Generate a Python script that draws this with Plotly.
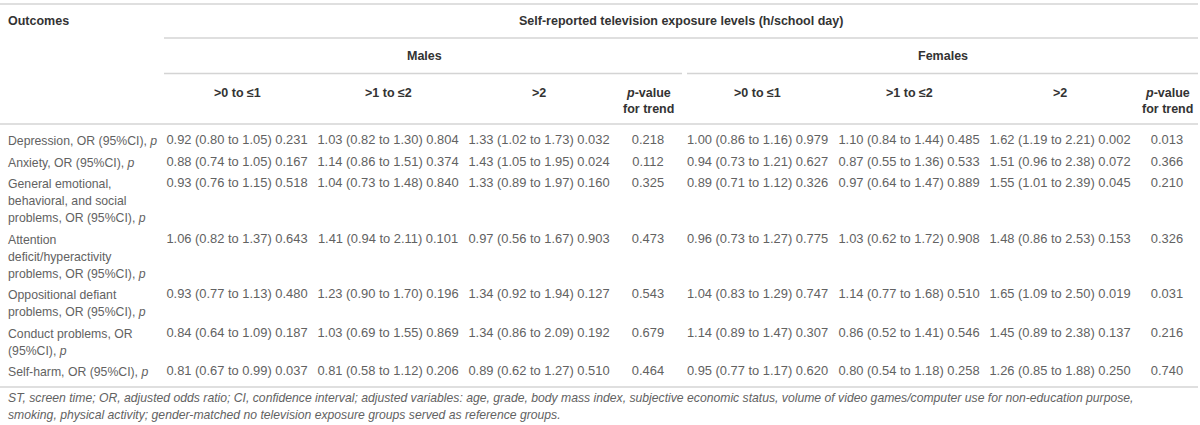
import plotly.graph_objects as go

# ---------------- data ----------------
outcomes = [
    ["Depression, OR (95%CI), <i>p</i>"],
    ["Anxiety, OR (95%CI), <i>p</i>"],
    ["General emotional,", "behavioral, and social", "problems, OR (95%CI), <i>p</i>"],
    ["Attention", "deficit/hyperactivity", "problems, OR (95%CI), <i>p</i>"],
    ["Oppositional defiant", "problems, OR (95%CI), <i>p</i>"],
    ["Conduct problems, OR", "(95%CI), <i>p</i>"],
    ["Self-harm, OR (95%CI), <i>p</i>"],
]
male_0_1 = ["0.92 (0.80 to 1.05) 0.231", "0.88 (0.74 to 1.05) 0.167", "0.93 (0.76 to 1.15) 0.518",
            "1.06 (0.82 to 1.37) 0.643", "0.93 (0.77 to 1.13) 0.480", "0.84 (0.64 to 1.09) 0.187",
            "0.81 (0.67 to 0.99) 0.037"]
male_1_2 = ["1.03 (0.82 to 1.30) 0.804", "1.14 (0.86 to 1.51) 0.374", "1.04 (0.73 to 1.48) 0.840",
            "1.41 (0.94 to 2.11) 0.101", "1.23 (0.90 to 1.70) 0.196", "1.03 (0.69 to 1.55) 0.869",
            "0.81 (0.58 to 1.12) 0.206"]
male_gt2 = ["1.33 (1.02 to 1.73) 0.032", "1.43 (1.05 to 1.95) 0.024", "1.33 (0.89 to 1.97) 0.160",
            "0.97 (0.56 to 1.67) 0.903", "1.34 (0.92 to 1.94) 0.127", "1.34 (0.86 to 2.09) 0.192",
            "0.89 (0.62 to 1.27) 0.510"]
male_trend = ["0.218", "0.112", "0.325", "0.473", "0.543", "0.679", "0.464"]
female_0_1 = ["1.00 (0.86 to 1.16) 0.979", "0.94 (0.73 to 1.21) 0.627", "0.89 (0.71 to 1.12) 0.326",
              "0.96 (0.73 to 1.27) 0.775", "1.04 (0.83 to 1.29) 0.747", "1.14 (0.89 to 1.47) 0.307",
              "0.95 (0.77 to 1.17) 0.620"]
female_1_2 = ["1.10 (0.84 to 1.44) 0.485", "0.87 (0.55 to 1.36) 0.533", "0.97 (0.64 to 1.47) 0.889",
              "1.03 (0.62 to 1.72) 0.908", "1.14 (0.77 to 1.68) 0.510", "0.86 (0.52 to 1.41) 0.546",
              "0.80 (0.54 to 1.18) 0.258"]
female_gt2 = ["1.62 (1.19 to 2.21) 0.002", "1.51 (0.96 to 2.38) 0.072", "1.55 (1.01 to 2.39) 0.045",
              "1.48 (0.86 to 2.53) 0.153", "1.65 (1.09 to 2.50) 0.019", "1.45 (0.89 to 2.38) 0.137",
              "1.26 (0.85 to 1.88) 0.250"]
female_trend = ["0.013", "0.366", "0.210", "0.326", "0.031", "0.216", "0.740"]

col_labels = [[">0 to ≤1"], [">1 to ≤2"], [">2"], ["<i>p</i>-value", "for trend"]]
title_text = "Self-reported television exposure levels (h/school day)"
group_labels = ["Males", "Females"]
stub_label = "Outcomes"
footnote_lines = [
    "ST, screen time; OR, adjusted odds ratio; CI, confidence interval; adjusted variables: age, grade, body mass index, "
    "subjective economic status, volume of video games/computer use for non-education purpose,",
    "smoking, physical activity; gender-matched no television exposure groups served as reference groups.",
]

# ---------------- layout geometry ----------------
W, H = 1200, 425
FONT = "Liberation Sans, Arial, Helvetica, sans-serif"
TXT = "#626262"
HDR = "#333333"
LINE = "#d4d4d4"
FS_DATA = 12.9
FS_STUB = 12.25
FS_HDR = 12.5
FS_FOOT = 12.2

stub_left = 6
table_left, table_right = 0, 1198
span_left = 164
male_bounds = [164, 310, 466, 612, 684]
female_bounds = [687, 828, 990, 1130, 1204]
male_centers = [(a + b) / 2 for a, b in zip(male_bounds[:-1], male_bounds[1:])]
female_centers = [(a + b) / 2 for a, b in zip(female_bounds[:-1], female_bounds[1:])]

y_top_rule = 4
y_title = 21
y_rule1 = 38
y_group = 56
y_rule2 = 73.5
y_colhdr = 93
hdr_step = 15.5
y_rule3 = 124
first_row_y = 141
line_step = 17
row_pad = 4.5

row_y = []
y = first_row_y
for lines in outcomes:
    row_y.append(y)
    y += line_step * len(lines) + row_pad
y_rule4 = row_y[-1] + 15
y_foot = y_rule4 + 11

fig = go.Figure()

# data columns as text traces
male_cols = [male_0_1, male_1_2, male_gt2, male_trend]
female_cols = [female_0_1, female_1_2, female_gt2, female_trend]
for centers, cols in ((male_centers, male_cols), (female_centers, female_cols)):
    for cx, vals in zip(centers, cols):
        fig.add_trace(go.Scatter(
            x=[cx] * len(vals), y=row_y, text=vals, mode="text",
            textposition="middle center",
            textfont=dict(family=FONT, size=FS_DATA, color=TXT),
            hoverinfo="skip", showlegend=False,
        ))

ann = []
# stub column, one annotation per text line
for ry, lines in zip(row_y, outcomes):
    for k, ln in enumerate(lines):
        ann.append(dict(x=stub_left, y=ry + k * line_step, text=ln, xanchor="left", yanchor="middle",
                        showarrow=False, font=dict(family=FONT, size=FS_STUB, color=TXT)))
# headers
ann.append(dict(x=stub_left, y=y_title, text="<b>" + stub_label + "</b>", xanchor="left", yanchor="middle",
                showarrow=False, font=dict(family=FONT, size=FS_HDR, color=HDR)))
ann.append(dict(x=(span_left + table_right) / 2, y=y_title, text="<b>" + title_text + "</b>",
                xanchor="center", yanchor="middle", showarrow=False, font=dict(family=FONT, size=FS_HDR, color=HDR)))
for lab, bounds in zip(group_labels, (male_bounds, female_bounds)):
    ann.append(dict(x=(bounds[0] + min(bounds[-1], table_right)) / 2, y=y_group, text="<b>" + lab + "</b>",
                    xanchor="center", yanchor="middle", showarrow=False,
                    font=dict(family=FONT, size=FS_HDR, color=HDR)))
for centers in (male_centers, female_centers):
    for cx, lab in zip(centers, col_labels):
        for k, ln in enumerate(lab):
            ann.append(dict(x=cx, y=y_colhdr + k * hdr_step, text="<b>" + ln + "</b>", xanchor="center",
                            yanchor="middle", showarrow=False, font=dict(family=FONT, size=FS_HDR, color=HDR)))
# footnote
for i, fl in enumerate(footnote_lines):
    ann.append(dict(x=stub_left, y=y_foot + i * line_step, text="<i>" + fl + "</i>", xanchor="left",
                    yanchor="middle", showarrow=False, font=dict(family=FONT, size=FS_FOOT, color=TXT)))

shapes = []
def hline(x0, x1, yy):
    shapes.append(dict(type="line", xref="x", yref="y", x0=x0, x1=x1, y0=yy, y1=yy,
                       line=dict(color=LINE, width=1.5)))
hline(table_left, table_right, y_top_rule)
hline(span_left, table_right, y_rule1)
hline(male_bounds[0], male_bounds[-1] - 2, y_rule2)
hline(female_bounds[0], table_right, y_rule2)
hline(table_left, table_right, y_rule3)
hline(table_left, table_right, y_rule4)

fig.update_layout(
    width=W, height=H,
    margin=dict(l=0, r=0, t=0, b=0),
    paper_bgcolor="white", plot_bgcolor="white",
    xaxis=dict(range=[0, W], visible=False, fixedrange=True),
    yaxis=dict(range=[H, 0], visible=False, fixedrange=True),
    annotations=ann, shapes=shapes,
)
fig.write_html("out.html", config={"displayModeBar": False},
               post_script="document.body.style.margin='0';document.body.style.overflow='hidden';")
